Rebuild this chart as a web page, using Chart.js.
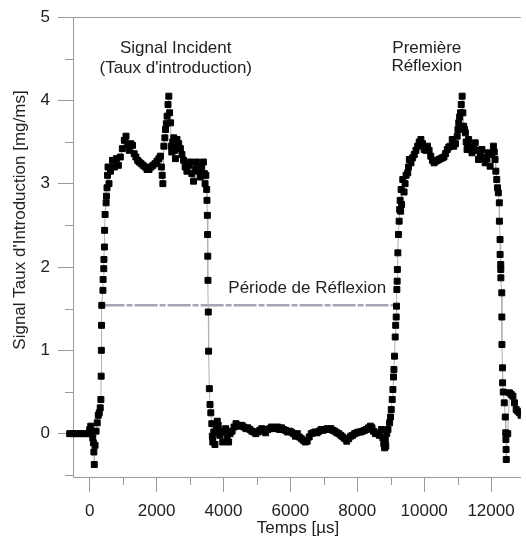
<!DOCTYPE html>
<html>
<head>
<meta charset="utf-8">
<script src="https://cdn.jsdelivr.net/npm/chart.js@4"></script>
<style>
  html, body { margin: 0; padding: 0; background: #fff; overflow: hidden; }
</style>
</head>
<body>
<canvas id="chart" width="526" height="537"></canvas>
<script>
// temps en µs et signal en mg/ms
const tempsUs = [
  -800, -700, -600, -500, -400, -300, -200, -100, -50,
  0, 30, 60, 90, 110, 125, 136, 160, 190, 225, 255, 285, 315,
  334, 342, 348, 354, 360, 395, 400, 420, 425, 440, 445, 460, 490, 500,
  517, 532, 547, 576, 621, 680, 739, 798, 857, 916, 975, 1035, 1085, 1138, 1182, 1227,
  1280, 1330, 1380, 1434, 1478, 1537, 1596, 1655, 1714, 1774, 1833, 1892, 1951, 2010,
  2069, 2114, 2143, 2167, 2187, 2217, 2247, 2267, 2291, 2314, 2341, 2365, 2388, 2418,
  2439, 2453, 2483, 2513, 2542, 2563, 2587, 2610, 2660, 2711, 2758, 2808, 2853, 2906,
  2956, 3006, 3054, 3104, 3154, 3201, 3252, 3302, 3349, 3399, 3429, 3449, 3473,
  3497, 3506, 3518, 3524, 3530, 3536, 3545, 3555, 3577, 3597, 3621,
  3651, 3666, 3680, 3710, 3745, 3784, 3813, 3843, 3887, 3931, 3976, 4020, 4065, 4109,
  4153, 4198, 4257, 4316, 4375, 4434, 4493, 4552, 4611, 4670, 4730, 4789, 4848, 4907,
  4966, 5025, 5084, 5143, 5203, 5262, 5321, 5380, 5439, 5498, 5557, 5616, 5676, 5735,
  5794, 5853, 5912, 5971, 6030, 6090, 6149, 6208, 6267, 6326, 6385, 6444, 6503, 6563,
  6622, 6681, 6740, 6799, 6858, 6917, 6976, 7036, 7095, 7154, 7213, 7272, 7331, 7390,
  7449, 7509, 7568, 7627, 7686, 7745, 7804, 7863, 7922, 7982, 8041, 8100, 8159, 8218,
  8277, 8336, 8395, 8440, 8484, 8543, 8602, 8661, 8721, 8765, 8794, 8818, 8839, 8853, 8883,
  8918, 8966, 8995, 9016, 9045, 9066, 9084, 9096, 9113, 9134, 9149, 9164, 9173, 9184,
  9193, 9199, 9214, 9232, 9252, 9267, 9282, 9297, 9311, 9326,
  9361, 9400, 9430, 9459, 9509, 9533, 9557, 9607, 9657, 9704, 9755, 9805, 9852, 9903,
  9952, 10001, 10050, 10101, 10148, 10198, 10248, 10297, 10346, 10396, 10443, 10494,
  10544, 10593, 10642, 10692, 10740, 10789, 10840, 10887, 10937, 10988, 11011, 11035,
  11061, 11085, 11109, 11136, 11158, 11182, 11208, 11233, 11257, 11282, 11306, 11331,
  11381, 11430, 11480, 11528, 11578, 11626, 11677, 11727, 11774, 11824, 11874, 11923,
  11972, 12022, 12071, 12097, 12120, 12144, 12171, 12194, 12218, 12248, 12250, 12269,
  12271, 12290, 12292, 12294, 12322, 12324, 12326, 12344, 12346, 12366, 12395, 12425,
  12439, 12445, 12450, 12455, 12500, 12553, 12603, 12654, 12701, 12751, 12800, 12849,
  12899, 12958
];
const signal = [
  0, 0, 0, 0, 0, 0, 0, 0, 0,
  0.05, 0.09, 0.03, -0.05, -0.11, -0.22, -0.37, -0.14, 0.03, 0.13, 0.22, 0.25, 0.31,
  0.41, 0.69, 1.0, 1.3, 1.54, 1.72, 1.85, 1.98, 2.09, 2.24, 2.44, 2.63, 2.77, 2.85,
  2.95, 3.1, 3.2, 3.0, 3.15, 3.28, 3.2, 3.3, 3.22, 3.32, 3.42, 3.52, 3.57, 3.47, 3.4, 3.48,
  3.46, 3.36, 3.32, 3.28, 3.26, 3.24, 3.22, 3.2, 3.17, 3.17, 3.2, 3.22, 3.24, 3.27,
  3.3, 3.33, 3.2, 3.1, 3.0, 3.45, 3.55, 3.65, 3.72, 3.81, 3.95, 4.05, 3.85, 3.73,
  3.45, 3.38, 3.5, 3.55, 3.4, 3.3, 3.45, 3.53, 3.48, 3.42, 3.35, 3.28, 3.2, 3.15,
  3.22, 3.26, 3.12, 3.03, 3.18, 3.26, 3.15, 3.08, 3.2, 3.26, 3.12, 3.0, 3.1,
  2.93, 2.8, 2.62, 2.39, 2.13, 1.84, 1.46, 0.99, 0.54, 0.35, 0.25,
  0.12, -0.03, -0.1, 0.02, -0.13, 0.05, 0.15, 0.1, -0.02, 0.02, -0.1, 0.03, 0.06, -0.05,
  -0.1, 0.0, 0.03, 0.08, 0.12, 0.1, 0.09, 0.1, 0.08, 0.06, 0.07, 0.05, 0.03, 0.02,
  0.0, 0.02, 0.04, 0.06, 0.03, 0.01, 0.05, 0.06, 0.08, 0.07, 0.06, 0.08, 0.05, 0.07,
  0.05, 0.04, 0.02, 0.03, 0.02, 0.0, -0.03, 0.0, -0.04, -0.06, -0.08, -0.1, -0.09, -0.04,
  0.0, 0.01, 0.02, 0.01, 0.03, 0.05, 0.04, 0.05, 0.06, 0.05, 0.06, 0.04, 0.03, 0.01,
  0.0, -0.02, -0.04, -0.06, -0.09, -0.06, -0.03, -0.02, 0.0, 0.01, 0.02, 0.02, 0.03, 0.04,
  0.05, 0.07, 0.09, 0.07, 0.03, 0.0, 0.01, -0.02, 0.05, -0.05, -0.12, -0.17, -0.08, -0.15, 0.0,
  0.05, 0.13, 0.2, 0.29, 0.41, 0.53, 0.68, 0.77, 0.93, 1.16, 1.3, 1.4, 1.53, 1.73,
  1.83, 1.97, 2.17, 2.39, 2.55, 2.69, 2.8, 2.67, 2.93, 2.75,
  3.05, 2.9, 3.0, 3.1, 3.13, 3.2, 3.29, 3.25, 3.31, 3.35, 3.4, 3.45, 3.5, 3.53,
  3.48, 3.41, 3.4, 3.45, 3.4, 3.33, 3.28, 3.25, 3.27, 3.28, 3.29, 3.3,
  3.31, 3.32, 3.36, 3.41, 3.44, 3.45, 3.53, 3.45, 3.48, 3.57, 3.65, 3.73,
  3.8, 3.85, 3.95, 4.05, 3.85, 3.69, 3.65, 3.61, 3.5, 3.41, 3.47, 3.53,
  3.45, 3.37, 3.42, 3.49, 3.4, 3.29, 3.35, 3.41, 3.32, 3.25, 3.3, 3.37,
  3.21, 3.35, 3.45, 3.38, 3.29, 3.15, 3.05, 2.95, 2.89, 2.77, 2.55, 2.33,
  2.15, 2.03, 1.97, 1.87, 1.69, 1.4, 1.07, 0.79, 0.61, 0.5, 0.37, 0.2,
  0.01, -0.07, -0.19, -0.31, 0.0, 0.49, 0.47, 0.45, 0.37, 0.29, 0.27, 0.25,
  0.22, 0.2
];

// période de réflexion (ligne grise)
const periodeT = [355, 9173];
const periodeV = [1.54, 1.54];

const xTicks = [0, 2000, 4000, 6000, 8000, 10000, 12000];
const xMinor = [1000, 3000, 5000, 7000, 9000, 11000];
const yTicks = [0, 1, 2, 3, 4, 5];
const yMinor = [-0.5, 0.5, 1.5, 2.5, 3.5, 4.5];

const notesTexte = ['Signal Incident', "(Taux d'introduction)", 'Première', 'Réflexion', 'Période de Réflexion'];
const notesT = [2572, 2572, 10080, 10080, 6503];
const notesV = [4.63, 4.39, 4.63, 4.41, 1.74];

const FONT = "'Liberation Sans', Arial, sans-serif";
const AXE = '#9a9a9a';
const TEXTE = '#222';

const decor = {
  id: 'decor',
  afterDraw(chart) {
    const { ctx, chartArea, scales } = chart;
    const x = scales.x, y = scales.y;
    ctx.save();
    // cadre du haut
    ctx.strokeStyle = AXE;
    ctx.lineWidth = 1;
    ctx.beginPath();
    ctx.moveTo(chartArea.left - 15, chartArea.top + 0.5);
    ctx.lineTo(chartArea.right, chartArea.top + 0.5);
    ctx.stroke();
    // graduations secondaires
    ctx.beginPath();
    xMinor.forEach(v => {
      const px = Math.round(x.getPixelForValue(v)) + 0.5;
      ctx.moveTo(px, chartArea.bottom);
      ctx.lineTo(px, chartArea.bottom + 8);
    });
    yMinor.forEach(v => {
      const py = Math.round(y.getPixelForValue(v)) + 0.5;
      ctx.moveTo(chartArea.left, py);
      ctx.lineTo(chartArea.left - 8, py);
    });
    ctx.stroke();
    // textes
    ctx.fillStyle = TEXTE;
    ctx.font = '17px ' + FONT;
    ctx.textAlign = 'center';
    ctx.textBaseline = 'middle';
    notesTexte.forEach((txt, i) => {
      ctx.fillText(txt, x.getPixelForValue(notesT[i]), y.getPixelForValue(notesV[i]));
    });
    ctx.fillText('Temps [µs]', 298, 528);
    ctx.translate(20, 220);
    ctx.rotate(-Math.PI / 2);
    ctx.fillText("Signal Taux d'Introduction [mg/ms]", 0, 0);
    ctx.restore();
  }
};

new Chart(document.getElementById('chart'), {
  type: 'scatter',
  data: {
    datasets: [
      {
        label: 'Période',
        data: periodeT.map((t, i) => ({ x: t, y: periodeV[i] })),
        showLine: true,
        borderColor: '#a4a4b6',
        borderWidth: 2.5,
        borderDash: [23, 2, 6, 2],
        pointRadius: 0,
        order: 2
      },
      {
        label: 'Signal',
        data: tempsUs.map((t, i) => ({ x: t, y: signal[i] })),
        showLine: true,
        borderColor: '#b0b0b0',
        borderWidth: 1,
        pointStyle: 'rect',
        pointRadius: 4.2,
        pointBackgroundColor: '#000',
        pointBorderColor: '#000',
        pointBorderWidth: 1,
        clip: { left: 12, top: 0, right: 0, bottom: 0 },
        order: 1
      }
    ]
  },
  options: {
    responsive: false,
    animation: false,
    devicePixelRatio: 1,
    layout: { padding: { top: 17, right: 0, left: 0, bottom: 0 } },
    plugins: { legend: { display: false }, tooltip: { enabled: false } },
    scales: {
      x: {
        type: 'linear',
        min: -500,
        max: 12890,
        afterFit: s => { s.height = 60; s.paddingLeft = 0; s.paddingRight = 0; },
        afterBuildTicks: s => { s.ticks = xTicks.map(v => ({ value: v })); },
        grid: { drawOnChartArea: false, tickLength: 15, tickColor: AXE },
        border: { color: AXE },
        ticks: { color: TEXTE, font: { family: FONT, size: 17 }, padding: 9, maxRotation: 0, callback: v => String(v) }
      },
      y: {
        min: -0.52,
        max: 5,
        afterFit: s => { s.width = 73; s.paddingTop = 0; s.paddingBottom = 0; },
        afterBuildTicks: s => { s.ticks = yTicks.map(v => ({ value: v })); },
        grid: { drawOnChartArea: false, tickLength: 15, tickColor: AXE },
        border: { color: AXE },
        ticks: { color: TEXTE, font: { family: FONT, size: 17 }, padding: 8, callback: v => String(v) }
      }
    }
  },
  plugins: [decor]
});
</script>
</body>
</html>
